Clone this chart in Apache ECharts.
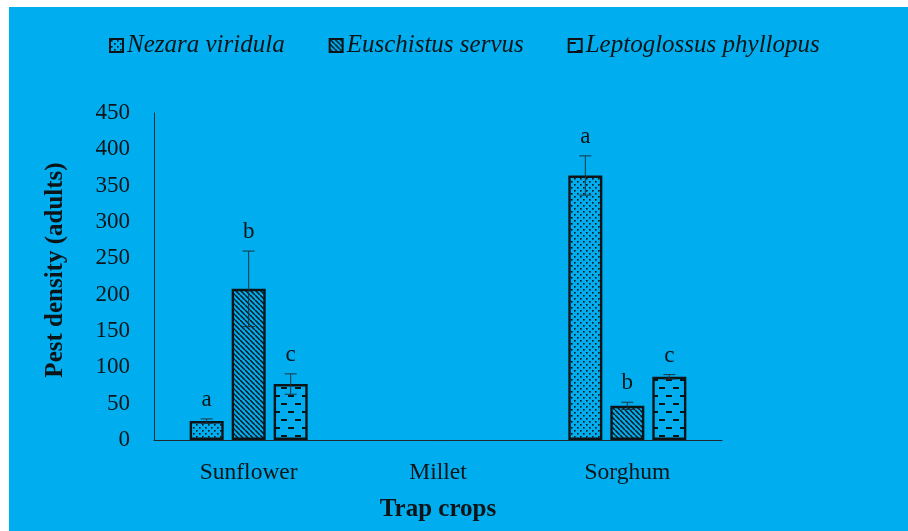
<!DOCTYPE html>
<html>
<head>
<meta charset="utf-8">
<script src="https://cdn.jsdelivr.net/npm/echarts@6/dist/echarts.min.js"></script>
<style>
html,body{margin:0;padding:0;background:#fff;}
#wrap{position:relative;width:908px;height:531px;background:#fff;overflow:hidden;}
#bg{position:absolute;left:9px;top:7px;right:0;bottom:0;background:#00AEEF;}
#chart{position:absolute;left:0;top:0;width:908px;height:531px;}
</style>
</head>
<body>
<div id="wrap"><div id="bg"></div><div id="chart"></div></div>
<script>
// ---- data ----
var categories = ['Sunflower', 'Millet', 'Sorghum'];
var seriesNames = ['Nezara viridula', 'Euschistus servus', 'Leptoglossus phyllopus'];
var nezara = [26, 0, 364];
var euschistus = [208, 0, 47];
var leptoglossus = [77, 0, 87];
var nezaraErr = [3, 0, 27];
var euschistusErr = [52, 0, 5];
var leptoglossusErr = [14, 0, 3];
var nezaraLetters = ['a', '', 'a'];
var euschistusLetters = ['b', '', 'b'];
var leptoglossusLetters = ['c', '', 'c'];
var yTicks = [0, 50, 100, 150, 200, 250, 300, 350, 400, 450];
var xTitle = 'Trap crops';
var yTitle = 'Pest density (adults)';

var INK = '#0c1418';
var FONT = '"Liberation Serif", "Times New Roman", serif';

function makeTile(w, h, draw) {
  var c = document.createElement('canvas');
  c.width = w; c.height = h;
  var ctx = c.getContext('2d');
  draw(ctx, w, h);
  return c;
}
var dotTile = makeTile(6, 6, function (ctx) {
  ctx.fillStyle = INK;
  ctx.fillRect(1, 1, 1.6, 1.6);
  ctx.fillRect(4, 4, 1.6, 1.6);
});
var diagTile = makeTile(5, 5, function (ctx, s) {
  ctx.strokeStyle = INK; ctx.lineWidth = 1.5;
  for (var k = -1; k <= 1; k++) {
    ctx.beginPath(); ctx.moveTo(k * s, 0); ctx.lineTo(k * s + s, s); ctx.stroke();
  }
});
var dashTile = makeTile(14, 16, function (ctx) {
  ctx.fillStyle = INK;
  ctx.fillRect(1, 3, 6, 2);
  ctx.fillRect(8, 11, 6, 2);
});
var patterns = [
  { image: dotTile, repeat: 'repeat' },
  { image: diagTile, repeat: 'repeat' },
  { image: dashTile, repeat: 'repeat' }
];

var values = [nezara, euschistus, leptoglossus];
var errs = [nezaraErr, euschistusErr, leptoglossusErr];
var letters = [nezaraLetters, euschistusLetters, leptoglossusLetters];

var BAR_W = 34, BAR_GAP = 8;

var series = [];
values.forEach(function (vals, si) {
  series.push({
    name: seriesNames[si],
    type: 'bar',
    barWidth: BAR_W,
    barGap: (BAR_GAP / BAR_W * 100) + '%',
    data: vals.map(function (v) { return v === 0 ? '-' : v; }),
    itemStyle: { color: patterns[si], borderColor: INK, borderWidth: 2.4 },
    z: 2
  });
});
values.forEach(function (vals, si) {
  var offset = (si - 1) * (BAR_W + BAR_GAP);
  series.push({
    type: 'custom',
    z: 5,
    data: vals.map(function (v, ci) { return [ci, v, errs[si][ci]]; })
      .filter(function (d) { return d[1] !== 0; }),
    renderItem: function (params, api) {
      var ci = api.value(0), v = api.value(1), e = api.value(2);
      var letter = letters[si][ci];
      var top = api.coord([ci, v + e]);
      var bot = api.coord([ci, v - e]);
      var x = top[0] + offset;
      var cap = 6;
      var st = { stroke: '#1b3440', lineWidth: 1 };
      return {
        type: 'group',
        children: [
          { type: 'line', shape: { x1: x, y1: top[1], x2: x, y2: bot[1] }, style: st },
          { type: 'line', shape: { x1: x - cap, y1: top[1], x2: x + cap, y2: top[1] }, style: st },
          { type: 'line', shape: { x1: x - cap, y1: bot[1], x2: x + cap, y2: bot[1] }, style: st },
          { type: 'text', style: { text: letter, x: x, y: top[1] - 19, align: 'center', verticalAlign: 'middle',
              font: '23px ' + FONT, fill: INK } }
        ]
      };
    }
  });
});

var chart = echarts.init(document.getElementById('chart'), null, { renderer: 'canvas' });
chart.setOption({
  animation: false,
  backgroundColor: 'transparent',
  legend: {
    data: seriesNames,
    left: 104,
    top: 28,
    icon: 'rect',
    itemWidth: 13,
    itemHeight: 13,
    itemGap: 44,
    itemStyle: { borderColor: INK, borderWidth: 2 },
    textStyle: { fontFamily: FONT, fontStyle: 'italic', fontSize: 25, color: INK, padding: [0, 0, 0, -1] }
  },
  grid: { left: 154, right: 186, top: 113, bottom: 91, containLabel: false },
  graphic: [{
    type: 'text',
    x: 56, y: 270,
    rotation: Math.PI / 2,
    silent: true,
    style: { text: yTitle, align: 'center', verticalAlign: 'middle',
      font: 'bold 25px ' + FONT, fill: INK }
  }],
  xAxis: {
    type: 'category',
    data: categories,
    name: xTitle,
    nameLocation: 'middle',
    nameGap: 57,
    nameTextStyle: { fontFamily: FONT, fontWeight: 'bold', fontSize: 25, color: INK },
    axisLine: { show: true, lineStyle: { color: '#1a2a30', width: 1 } },
    axisTick: { show: false },
    axisLabel: { margin: 21, fontFamily: FONT, fontSize: 23.5, color: INK }
  },
  yAxis: {
    type: 'value',
    min: yTicks[0],
    max: yTicks[yTicks.length - 1],
    interval: yTicks[1] - yTicks[0],
    axisLine: { show: true, lineStyle: { color: '#1a2a30', width: 1 } },
    axisTick: { show: false },
    splitLine: { show: false },
    axisLabel: { margin: 24, fontFamily: FONT, fontSize: 23, color: INK }
  },
  series: series
});
</script>
</body>
</html>
